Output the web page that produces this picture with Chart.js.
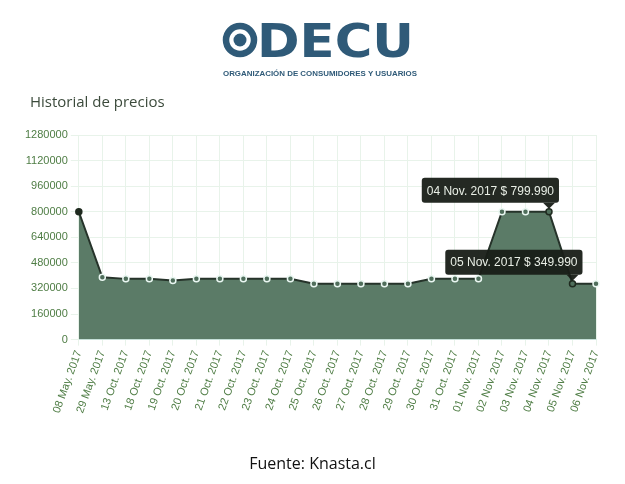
<!DOCTYPE html>
<html lang="es">
<head>
    <meta charset="UTF-8">
    <script src="https://cdn.jsdelivr.net/npm/chart.js"></script>
    <title>Historial de precios</title>
    <style>
        body { margin: 0; background: #fff; width: 625px; height: 484px; overflow: hidden; position: relative; }
        #logo { position: absolute; left: 0; top: 0; }
        #titulo { position: absolute; left: 30px; top: 91px; font-family: "Open Sans", sans-serif; font-size: 15px; color: #3b4a3b; }
        #fuente { position: absolute; left: 0; width: 625px; top: 452px; text-align: center; font-family: "Open Sans", sans-serif; font-size: 16px; color: #111; }
        #wrap { position: absolute; left: 0; top: 0; }
    </style>
</head>
<body>
    <div id="wrap"><canvas id="precios" width="625" height="484"></canvas></div>
    <svg id="logo" width="625" height="90">
        <circle cx="240" cy="40" r="14" fill="none" stroke="#2f5a78" stroke-width="6.5"/>
        <circle cx="240" cy="40" r="6.5" fill="#2f5a78"/>
        <text x="257" y="57" font-family="DejaVu Sans" font-weight="bold" font-size="47" fill="#2f5a78" textLength="157" lengthAdjust="spacingAndGlyphs">DECU</text>
        <text x="223" y="76" font-family="Liberation Sans" font-weight="bold" font-size="7.5" fill="#2f5a78" textLength="194" lengthAdjust="spacingAndGlyphs">ORGANIZACIÓN DE CONSUMIDORES Y USUARIOS</text>
    </svg>
    <div id="titulo">Historial de precios</div>
    <div id="fuente">Fuente: Knasta.cl</div>

    <script>
    const fechas = ["08 May. 2017", "29 May. 2017", "13 Oct. 2017", "18 Oct. 2017", "19 Oct. 2017",
        "20 Oct. 2017", "21 Oct. 2017", "22 Oct. 2017", "23 Oct. 2017", "24 Oct. 2017",
        "25 Oct. 2017", "26 Oct. 2017", "27 Oct. 2017", "28 Oct. 2017", "29 Oct. 2017",
        "30 Oct. 2017", "31 Oct. 2017", "01 Nov. 2017", "02 Nov. 2017", "03 Nov. 2017",
        "04 Nov. 2017", "05 Nov. 2017", "06 Nov. 2017"];
    const precios = [799990, 389990, 379990, 379990, 369990,
        379990, 379990, 379990, 379990, 379990,
        349990, 349990, 349990, 349990, 349990,
        379990, 379990, 379990, 799990, 799990,
        799990, 349990, 349990];
    const marcados = [20, 21]; // puntos con tooltip visible

    function formatoPrecio(v) {
        return "$ " + v.toString().replace(/\B(?=(\d{3})+(?!\d))/g, ".");
    }

    const tooltips = {
        id: 'tooltips',
        afterDatasetsDraw(chart) {
            const ctx = chart.ctx;
            const pts = chart.getDatasetMeta(0).data;
            ctx.save();
            ctx.font = '12px "Liberation Sans", Arial, sans-serif';
            marcados.forEach((i) => {
                const p = pts[i];
                const txt = fechas[i] + " " + formatoPrecio(precios[i]);
                const w = ctx.measureText(txt).width + 10;
                const h = 25;
                const right = p.x + 10;
                const bottom = p.y - 9;
                ctx.fillStyle = 'rgba(24,30,23,0.95)';
                ctx.beginPath();
                ctx.roundRect(right - w, bottom - h, w, h, 3);
                ctx.fill();
                ctx.beginPath();
                ctx.moveTo(p.x - 6, bottom);
                ctx.lineTo(p.x + 6, bottom);
                ctx.lineTo(p.x, bottom + 6);
                ctx.closePath();
                ctx.fill();
                ctx.fillStyle = '#e9efe6';
                ctx.textBaseline = 'middle';
                ctx.fillText(txt, right - w + 5, bottom - h / 2 + 1);
            });
            ctx.restore();
        }
    };

    const bordes = precios.map((v, i) => (i === 0 || marcados.includes(i)) ? '#1f2a1f' : '#eaf7f2');
    const fondos = precios.map((v, i) => i === 0 ? '#1f2a1f' : '#4f6e5b');

    new Chart(document.getElementById('precios'), {
        type: 'line',
        data: {
            labels: fechas,
            datasets: [{
                data: precios,
                fill: true,
                backgroundColor: '#5b7b67',
                borderColor: '#26332a',
                borderWidth: 2,
                tension: 0,
                pointRadius: 3,
                pointBorderWidth: 1.5,
                pointBorderColor: bordes,
                pointBackgroundColor: fondos
            }]
        },
        options: {
            responsive: false,
            animation: false,
            layout: { padding: { left: 22, right: 29, top: 135, bottom: 66 } },
            plugins: {
                legend: { display: false },
                tooltip: { enabled: false }
            },
            scales: {
                x: {
                    grid: { color: '#e8f3ea', tickLength: 6 },
                    border: { color: '#d5efe8' },
                    ticks: {
                        color: '#4f7d45',
                        font: { family: 'Liberation Sans', size: 11 },
                        minRotation: 70,
                        maxRotation: 70,
                        autoSkip: false
                    }
                },
                y: {
                    min: 0,
                    max: 1280000,
                    grid: { color: '#e8f3ea' },
                    border: { color: '#e8f3ea' },
                    ticks: {
                        stepSize: 160000,
                        color: '#4f7d45',
                        font: { family: 'Liberation Sans', size: 11 },
                        callback: (v) => v.toString()
                    }
                }
            }
        },
        plugins: [tooltips]
    });
    </script>
</body>
</html>
